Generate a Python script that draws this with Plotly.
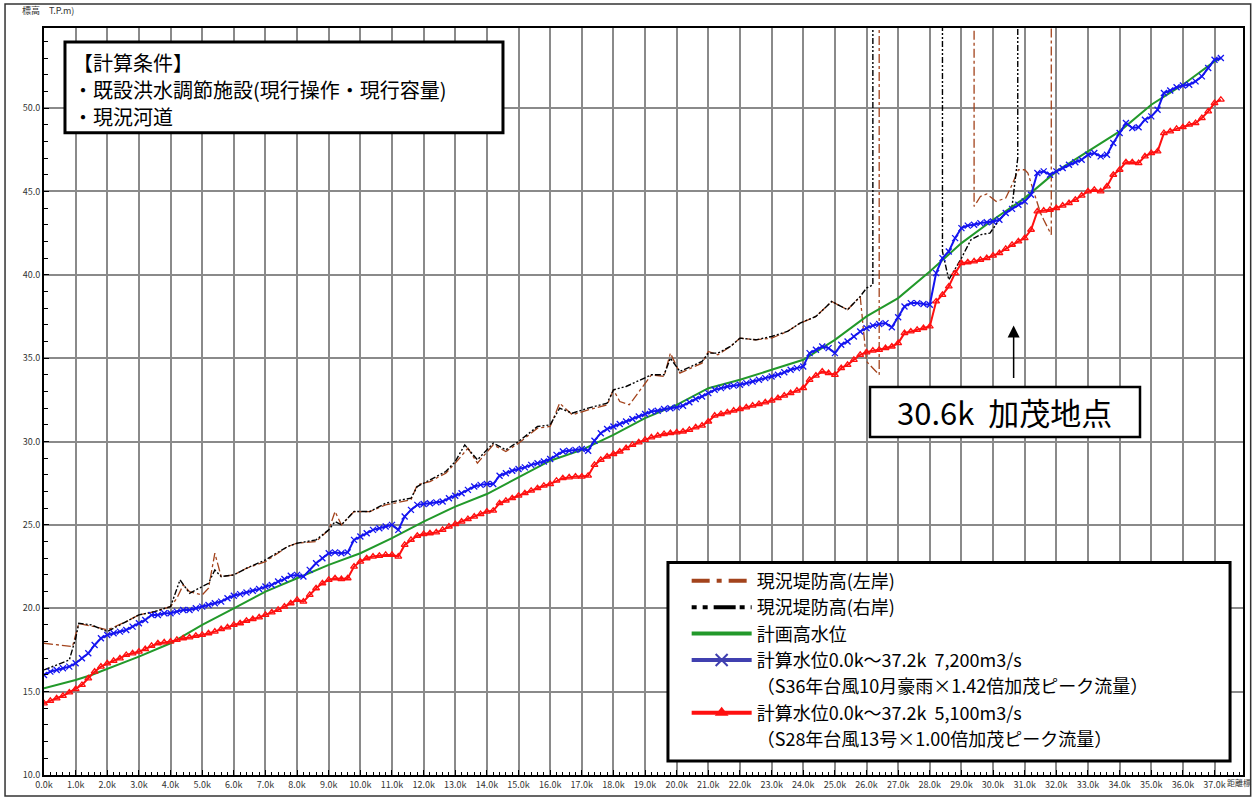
import plotly.graph_objs as go

# 距離標 (0.2k 間隔)
calc_km = [round(i * 0.2, 1) for i in range(187)]

# 計算水位 7,200m3/s
calc_7200 = [16.0, 16.2, 16.3, 16.4, 16.5, 16.7, 17.0, 17.3, 17.8, 18.2,
             18.4, 18.5, 18.6, 18.7, 18.9, 19.1, 19.3, 19.6, 19.6, 19.7,
             19.7, 19.8, 19.9, 19.9, 20.0, 20.1, 20.2, 20.3, 20.4, 20.6,
             20.75, 20.85, 20.95, 21.05, 21.15, 21.3, 21.4, 21.6, 21.75, 21.95,
             22.0, 21.9, 22.3, 22.7, 23.0, 23.3, 23.35, 23.3, 23.35, 24.1,
             24.3, 24.5, 24.7, 24.8, 24.9, 25.0, 24.7, 25.5, 25.9, 26.2,
             26.25, 26.3, 26.35, 26.4, 26.6, 26.75, 26.9, 27.1, 27.3, 27.4,
             27.45, 27.45, 27.95, 28.1, 28.25, 28.35, 28.45, 28.6, 28.7, 28.8,
             28.95, 29.2, 29.4, 29.45, 29.5, 29.55, 29.45, 30.05, 30.5, 30.75,
             30.9, 31.05, 31.2, 31.35, 31.5, 31.65, 31.8, 31.85, 31.95, 32.0,
             32.05, 32.15, 32.35, 32.55, 32.7, 32.9, 33.1, 33.2, 33.3, 33.35,
             33.4, 33.5, 33.6, 33.7, 33.8, 33.9, 34.0, 34.15, 34.3, 34.4,
             34.5, 35.3, 35.5, 35.7, 35.6, 35.3, 35.8, 36.0, 36.3, 36.6,
             36.8, 36.95, 37.05, 37.1, 36.85, 37.45, 38.1, 38.3, 38.3, 38.25,
             38.2, 40.1, 41.0, 41.4, 42.2, 42.8, 42.95, 43.0, 43.1, 43.15,
             43.2, 43.3, 43.7, 43.95, 44.2, 44.4, 44.8, 46.1, 46.2, 46.0,
             46.2, 46.4, 46.6, 46.75, 46.9, 47.2, 47.3, 47.1, 47.2, 47.9,
             48.5, 49.1, 48.8, 48.85, 49.3, 49.5, 49.9, 50.9, 51.05, 51.25,
             51.35, 51.4, 51.6, 51.9, 52.4, 52.9, 53.0]

# 計算水位 5,100m3/s
calc_5100 = [14.3, 14.45, 14.6, 14.75, 14.95, 15.15, 15.4, 15.8, 16.2, 16.5,
             16.7, 16.85, 17.0, 17.2, 17.3, 17.4, 17.55, 17.75, 17.9, 17.95,
             18.0, 18.1, 18.2, 18.25, 18.35, 18.4, 18.5, 18.6, 18.75, 18.85,
             19.0, 19.1, 19.25, 19.35, 19.45, 19.6, 19.75, 19.9, 20.1, 20.3,
             20.5, 20.4, 20.8, 21.2, 21.5, 21.7, 21.8, 21.75, 21.8, 22.5,
             22.8, 23.0, 23.1, 23.15, 23.2, 23.2, 23.1, 23.8, 24.1, 24.35,
             24.45, 24.5, 24.55, 24.7, 24.9, 25.05, 25.2, 25.35, 25.5, 25.65,
             25.8, 25.85, 26.3, 26.45, 26.6, 26.75, 26.9, 27.05, 27.2, 27.35,
             27.45, 27.65, 27.8, 27.85, 27.9, 27.9, 27.95, 28.6, 28.9, 29.1,
             29.25, 29.4, 29.6, 29.8, 29.95, 30.1, 30.25, 30.35, 30.45, 30.5,
             30.55, 30.6, 30.7, 30.85, 30.95, 31.2, 31.55, 31.65, 31.75, 31.85,
             31.95, 32.05, 32.15, 32.25, 32.35, 32.45, 32.6, 32.75, 32.9, 33.05,
             33.2, 33.7, 33.95, 34.2, 34.1, 34.0, 34.4, 34.6, 34.9, 35.2,
             35.35, 35.45, 35.5, 35.6, 35.7, 35.9, 36.5, 36.6, 36.7, 36.8,
             36.9, 38.4, 38.8, 39.3, 40.1, 40.7, 40.75, 40.8, 40.9, 41.0,
             41.15, 41.3, 41.55, 41.8, 42.0, 42.2, 42.7, 43.8, 43.85, 43.9,
             44.0, 44.15, 44.3, 44.5, 44.75, 45.0, 45.1, 45.0, 45.3, 46.0,
             46.3, 46.75, 46.75, 46.7, 47.1, 47.3, 47.4, 48.5, 48.6, 48.75,
             48.85, 49.0, 49.1, 49.4, 49.8, 50.3, 50.5]

# 計画高水位
plan_km = [0.0, 1.0, 1.5, 3.0, 4.0, 5.0, 6.0, 7.0, 8.0, 9.0, 10.0, 11.0, 12.0,
           13.0, 14.0, 15.0, 16.0, 17.0, 18.0, 19.0, 20.0, 21.0, 22.0, 23.0,
           24.0, 25.0, 26.0, 27.0, 28.0, 29.0, 30.0, 31.0, 32.0, 33.0, 34.0,
           35.0, 36.0, 37.0, 37.2]
plan_m = [15.2, 15.7, 16.0, 17.1, 17.9, 19.0, 20.0, 21.0, 21.8, 22.6, 23.3,
          24.2, 25.2, 26.1, 26.85, 27.85, 28.85, 29.5, 30.4, 31.4, 32.2, 33.2,
          33.7, 34.3, 34.9, 36.1, 37.5, 38.6, 40.2, 41.9, 43.3, 44.6, 46.2,
          47.4, 48.6, 50.2, 51.4, 52.8, 53.0]

# 現況堤防高(左岸)  60.0 = 図の上端より上
levee_left_km = [0.0, 0.5, 0.9, 1.1, 1.3, 1.6, 2.0, 2.6, 3.0, 3.5, 4.0, 4.2,
                 4.4, 4.6, 5.0, 5.2, 5.4, 5.6, 6.0, 6.4, 7.0, 7.7, 8.0, 8.6,
                 9.0, 9.2, 9.4, 9.8, 10.3, 10.8, 11.3, 11.6, 11.8, 12.2, 12.7,
                 13.0, 13.4, 13.7, 14.2, 14.6, 15.0, 15.6, 16.0, 16.3, 16.7,
                 17.2, 17.8, 18.0, 18.2, 18.5, 19.2, 19.6, 19.8, 20.1, 20.8,
                 21.0, 21.3, 21.7, 22.0, 22.5, 23.0, 23.5, 23.9, 24.4, 24.9,
                 25.4, 25.8, 26.0, 26.4, 26.4, 29.4, 29.4, 29.6, 29.8, 30.1,
                 30.4, 30.6, 30.8, 31.0, 31.1, 31.3, 31.5, 31.6, 31.84, 31.84]
levee_left_m = [17.9, 17.8, 17.7, 19.1, 19.0, 18.9, 18.7, 19.2, 19.6, 19.8,
                20.1, 20.6, 21.4, 21.0, 20.8, 21.2, 23.3, 21.9, 22.0, 22.4,
                22.8, 23.7, 23.9, 24.0, 24.7, 25.8, 25.0, 25.8, 25.8, 26.2,
                26.4, 26.5, 27.4, 27.6, 28.1, 28.7, 29.6, 28.7, 29.8, 29.4,
                29.9, 30.8, 30.9, 32.3, 31.6, 31.9, 32.2, 33.1, 32.4, 32.2,
                34.0, 33.9, 35.3, 34.1, 34.7, 35.4, 35.2, 35.7, 36.2, 36.1,
                36.2, 36.6, 37.1, 37.5, 38.4, 37.9, 38.7, 34.8, 34.0, 60.0,
                60.0, 44.1, 44.7, 44.85, 44.4, 44.6, 45.4, 46.3, 46.3, 46.1,
                44.9, 43.7, 43.3, 42.4, 60.0]

# 現況堤防高(右岸)
levee_right_km = [0.0, 0.4, 0.8, 1.0, 1.1, 1.5, 2.0, 2.6, 3.0, 3.5, 4.0, 4.3,
                  4.6, 5.0, 5.2, 5.4, 5.6, 6.0, 6.4, 7.0, 7.7, 8.0, 8.6, 9.0,
                  9.2, 9.4, 9.8, 10.3, 10.8, 11.3, 11.6, 11.8, 12.2, 12.7,
                  13.0, 13.3, 13.7, 14.2, 14.6, 15.0, 15.6, 16.0, 16.3, 16.7,
                  17.2, 17.8, 18.0, 18.4, 19.2, 19.6, 19.8, 20.1, 20.8, 21.0,
                  21.3, 21.7, 22.0, 22.5, 23.0, 23.5, 23.9, 24.4, 24.9, 25.4,
                  25.8, 26.0, 26.2, 26.2, 28.4, 28.4, 28.6, 29.0, 29.3, 29.6,
                  29.9, 30.2, 30.6, 30.78, 30.78]
levee_right_m = [16.3, 16.6, 16.9, 18.2, 19.1, 19.0, 18.6, 19.2, 19.6, 19.8,
                 20.1, 21.7, 20.9, 21.3, 21.5, 22.3, 21.9, 22.0, 22.4, 22.9,
                 23.7, 23.9, 24.1, 24.7, 25.2, 25.0, 25.8, 25.8, 26.3, 26.5,
                 26.6, 27.3, 27.7, 28.2, 28.8, 29.8, 28.9, 29.9, 29.5, 30.0,
                 30.9, 31.0, 32.0, 31.7, 32.0, 32.3, 33.1, 33.3, 34.0, 34.0,
                 35.0, 34.2, 34.8, 35.3, 35.3, 35.7, 36.2, 36.1, 36.3, 36.6,
                 37.1, 37.5, 38.4, 37.9, 38.7, 39.2, 39.4, 60.0, 60.0, 41.4,
                 39.7, 41.0, 42.1, 42.4, 42.5, 43.3, 44.1, 47.0, 60.0]

x_ticks = list(range(38))
x_tick_labels = [f"{k}.0k" for k in x_ticks]
y_ticks = [10, 15, 20, 25, 30, 35, 40, 45, 50]
y_tick_labels = ["10.0", "15.0", "20.0", "25.0", "30.0", "35.0", "40.0", "45.0", "50.0"]

names = ["現況堤防高(左岸)", "現況堤防高(右岸)", "計画高水位",
         "計算水位0.0k～37.2k  7,200m3/s", "（S36年台風10月豪雨×1.42倍加茂ピーク流量）",
         "計算水位0.0k～37.2k  5,100m3/s", "（S28年台風13号×1.00倍加茂ピーク流量）"]
note_lines = ["【計算条件】", "・既設洪水調節施設(現行操作・現行容量)", "・現況河道"]

BROWN = "#a3431c"
BLUE = "#1515f0"
RED = "#ff1010"
GREEN = "#22992a"
JP = "Noto Sans CJK JP"

fig = go.Figure()

fig.add_trace(go.Scatter(x=levee_left_km, y=levee_left_m, mode="lines", showlegend=False,
                         line=dict(color=BROWN, width=1.3, dash="dashdot")))
fig.add_trace(go.Scatter(x=levee_right_km, y=levee_right_m, mode="lines", showlegend=False,
                         line=dict(color="black", width=1.4, dash="6px,2px,2px,2px,2px,2px")))
fig.add_trace(go.Scatter(x=plan_km, y=plan_m, mode="lines", showlegend=False,
                         line=dict(color=GREEN, width=2)))
fig.add_trace(go.Scatter(x=calc_km, y=calc_7200, mode="lines+markers", showlegend=False,
                         line=dict(color=BLUE, width=2),
                         marker=dict(symbol="x-thin", size=6, line=dict(color=BLUE, width=1.3))))
fig.add_trace(go.Scatter(x=calc_km, y=calc_5100, mode="lines+markers", showlegend=False,
                         line=dict(color=RED, width=2),
                         marker=dict(symbol="triangle-up-open", size=6, color=RED,
                                     line=dict(color=RED, width=1.3))))

# 凡例用 (太線)。2行目は記号なしの項目として並べる
fig.add_trace(go.Scatter(x=[None], y=[None], mode="lines", name=names[0],
                         line=dict(color=BROWN, width=4, dash="18px,7px,5px,7px")))
fig.add_trace(go.Scatter(x=[None], y=[None], mode="lines", name=names[1],
                         line=dict(color="black", width=4, dash="5px,6px,5px,6px,22px,4px")))
fig.add_trace(go.Scatter(x=[None], y=[None], mode="lines", name=names[2],
                         line=dict(color=GREEN, width=4)))
fig.add_trace(go.Scatter(x=[None], y=[None], mode="lines+markers", name=names[3],
                         line=dict(color="#4040b0", width=4),
                         marker=dict(symbol="x-thin", size=12, line=dict(color="#4040b0", width=2))))
fig.add_trace(go.Scatter(x=[None], y=[None], mode="lines", name=names[4],
                         line=dict(color="rgba(0,0,0,0)", width=0)))
fig.add_trace(go.Scatter(x=[None], y=[None], mode="lines+markers", name=names[5],
                         line=dict(color=RED, width=4),
                         marker=dict(symbol="triangle-up", size=12, color=RED)))
fig.add_trace(go.Scatter(x=[None], y=[None], mode="lines", name=names[6],
                         line=dict(color="rgba(0,0,0,0)", width=0)))

shapes = [
    # 外枠
    dict(type="rect", xref="paper", yref="paper", x0=-0.0325, x1=1.0064, y0=-0.028, y1=1.032,
         line=dict(color="#333", width=1.5), layer="below"),
    # 計算条件の枠
    dict(type="rect", xref="paper", yref="paper", x0=0.0175, x1=0.3828, y0=0.8598, y1=0.9813,
         line=dict(color="black", width=3), fillcolor="white", layer="above"),
    # 凡例の枠
    dict(type="rect", xref="paper", yref="paper", x0=0.5204, x1=0.9892, y0=0.0187, y1=0.2844,
         line=dict(color="black", width=3), fillcolor="white", layer="above"),
    # 加茂地点の枠
    dict(type="rect", xref="paper", yref="paper", x0=0.6889, x1=0.9141, y0=0.4526, y1=0.5194,
         line=dict(color="black", width=2.5), fillcolor="white", layer="above"),
]

annotations = [
    dict(text="30.6k  加茂地点", xref="paper", yref="paper", x=0.8015, y=0.486,
         xanchor="center", yanchor="middle", showarrow=False,
         font=dict(family=JP, size=31, color="black")),
    dict(text="", x=30.65, y=36.96, xref="x", yref="y", ax=0, ay=54, showarrow=True,
         arrowhead=2, arrowsize=1.6, arrowwidth=1.5, arrowcolor="black"),
    dict(text="標高　T.P.m)", xref="paper", yref="paper", x=-0.02, y=1.024,
         xanchor="left", yanchor="middle", showarrow=False,
         font=dict(family=JP, size=9, color="#333")),
    dict(text="距離標", xref="paper", yref="paper", x=0.985, y=-0.01,
         xanchor="left", yanchor="middle", showarrow=False,
         font=dict(family=JP, size=8, color="#333")),
]
# 計算条件 (1行ずつ)
for i, line in enumerate(note_lines):
    annotations.append(dict(text=line, xref="paper", yref="paper",
                            x=0.0225, y=(777 - 63 - 27 * i) / 749,
                            xanchor="left", yanchor="middle", showarrow=False,
                            font=dict(family=JP, size=20, color="black")))

fig.update_layout(
    width=1257, height=803,
    margin=dict(l=44, r=14, t=28, b=26),
    paper_bgcolor="white", plot_bgcolor="white",
    shapes=shapes, annotations=annotations,
    legend=dict(x=0.536, y=0.2844, xanchor="left", yanchor="top",
                bgcolor="rgba(0,0,0,0)", borderwidth=0, itemwidth=60,
                valign="middle", tracegroupgap=0,
                font=dict(family=JP, size=18, color="black")),
    xaxis=dict(range=[0, 37.9], tickvals=x_ticks, ticktext=x_tick_labels,
               showgrid=True, gridcolor="#8a8a8a", gridwidth=1.5, zeroline=False,
               showline=True, linecolor="black", linewidth=2, mirror=True,
               ticks="inside", ticklen=5, tickcolor="black",
               minor=dict(dtick=0.2, ticks="inside", ticklen=3, tickcolor="black", showgrid=False),
               tickfont=dict(family=JP, size=9, color="#333")),
    yaxis=dict(range=[10, 54.8], tickvals=y_ticks, ticktext=y_tick_labels,
               showgrid=True, gridcolor="#8a8a8a", gridwidth=1.5, zeroline=False,
               showline=True, linecolor="black", linewidth=2, mirror=True,
               ticks="inside", ticklen=5, tickcolor="black",
               minor=dict(dtick=1, ticks="inside", ticklen=4, tickcolor="black", showgrid=False),
               tickfont=dict(family=JP, size=9, color="#333")),
)

# ページ余白を消して 1257x803 の窓にそのまま収める
fig.write_html("out.html", config={"displayModeBar": False},
               post_script="document.body.style.margin='0';document.body.style.overflow='hidden';")
